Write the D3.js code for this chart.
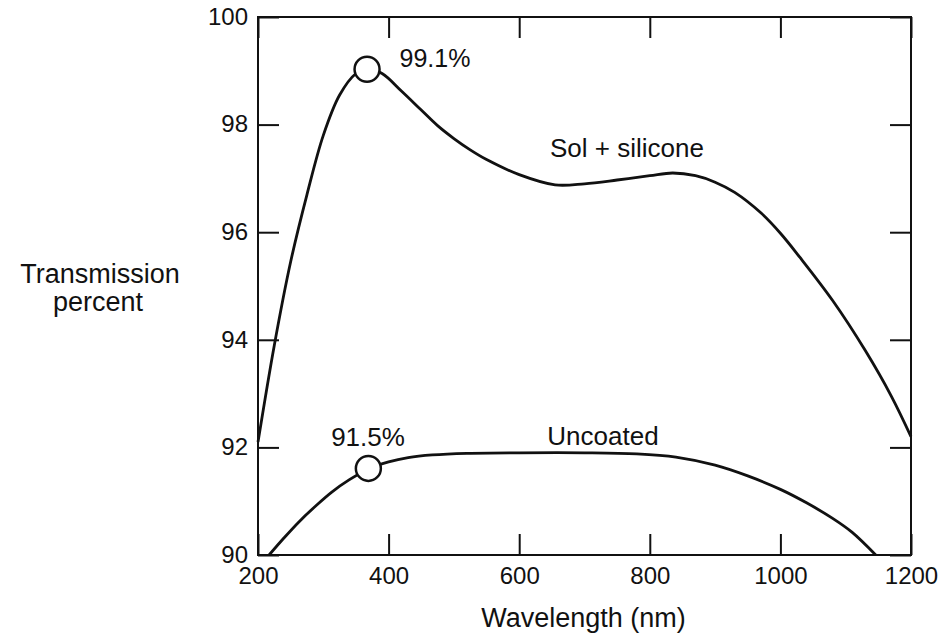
<!DOCTYPE html>
<html><head><meta charset="utf-8">
<script src="https://cdn.jsdelivr.net/npm/d3@7"></script>
<style>
body{margin:0;background:#fff;}
text{font-family:"Liberation Sans",Arial,sans-serif;fill:#111;}
</style></head>
<body><svg id="c" width="942" height="636"></svg>
<script>
const xTicks = [200, 400, 600, 800, 1000, 1200];
const yTicks = [90, 92, 94, 96, 98, 100];
const solWave = [200,225,250,275,300,325,350,367,390,420,450,475,500,525,550,600,655,700,750,800,835,870,900,930,970,1000,1030,1080,1130,1170,1200];
const solValue = [92.1,93.9,95.45,96.7,97.8,98.55,98.95,99.04,98.95,98.62,98.27,97.98,97.74,97.53,97.35,97.07,96.88,96.9,96.97,97.05,97.1,97.05,96.93,96.74,96.36,95.98,95.53,94.73,93.8,92.95,92.2];
const uncWave = [217,240,263,290,313,340,369,400,430,467,520,600,700,780,840,900,950,1000,1040,1080,1110,1146];
const uncValue = [90,90.32,90.62,90.93,91.17,91.4,91.6,91.73,91.81,91.86,91.89,91.9,91.9,91.88,91.82,91.67,91.47,91.22,90.97,90.68,90.42,90.0];
const markerWave = [367, 369];
const markerValue = [99.03, 91.61];
const markerLabel = ["99.1%", "91.5%"];
const seriesLabel = ["Sol + silicone", "Uncoated"];

const svg = d3.select("#c");
const L = 258, R = 911, T = 17, B = 555;
const x = d3.scaleLinear().domain([200, 1200]).range([L, R]);
const y = d3.scaleLinear().domain([90, 100]).range([B, T]);

// frame
svg.append("rect").attr("x", L).attr("y", T).attr("width", R - L).attr("height", B - T)
  .attr("fill", "none").attr("stroke", "#111").attr("stroke-width", 2);

const tl = 21;
// axes with inward ticks
const gx = svg.append("g").attr("transform", `translate(0,${B})`)
  .call(d3.axisBottom(x).tickValues(xTicks).tickSize(-tl).tickPadding(12).tickFormat(d3.format("d")));
const gxt = svg.append("g").attr("transform", `translate(0,${T})`)
  .call(d3.axisTop(x).tickValues(xTicks).tickSize(-tl).tickFormat(""));
const gy = svg.append("g").attr("transform", `translate(${L},0)`)
  .call(d3.axisLeft(y).tickValues(yTicks).tickSize(-tl).tickPadding(10).tickFormat(d3.format("d")));
const gyr = svg.append("g").attr("transform", `translate(${R},0)`)
  .call(d3.axisRight(y).tickValues(yTicks).tickSize(-tl).tickFormat(""));
[gx, gxt, gy, gyr].forEach(g => {
  g.select(".domain").remove();
  g.selectAll(".tick line").attr("stroke", "#111").attr("stroke-width", 2);
  g.selectAll("text").style("font-size", "24px").style("font-family", "'Liberation Sans',Arial,sans-serif").attr("fill", "#111");
});
gy.selectAll(".tick text").attr("dy", "0.3em");

// curves
const line = d3.line().x(d => x(d[0])).y(d => y(d[1])).curve(d3.curveCatmullRom.alpha(0.5));
svg.append("path").datum(solWave.map((w, i) => [w, solValue[i]]))
  .attr("d", line).attr("fill", "none").attr("stroke", "#111").attr("stroke-width", 2.8);
svg.append("path").datum(uncWave.map((w, i) => [w, uncValue[i]]))
  .attr("d", line).attr("fill", "none").attr("stroke", "#111").attr("stroke-width", 2.8);

// markers
svg.selectAll("circle.m").data(markerWave).enter().append("circle")
  .attr("cx", (d) => x(d)).attr("cy", (d, i) => y(markerValue[i])).attr("r", 12.5)
  .attr("fill", "#fff").attr("stroke", "#111").attr("stroke-width", 2.5);

// annotations
svg.append("text").attr("x", 435).attr("y", 67).attr("text-anchor", "middle").style("font-size", "25px").text(markerLabel[0]);
svg.append("text").attr("x", 368).attr("y", 446).attr("text-anchor", "middle").style("font-size", "26px").text(markerLabel[1]);
svg.append("text").attr("x", 627).attr("y", 157).attr("text-anchor", "middle").style("font-size", "26px").text(seriesLabel[0]);
svg.append("text").attr("x", 603).attr("y", 445).attr("text-anchor", "middle").style("font-size", "26px").text(seriesLabel[1]);

// axis titles
svg.append("text").attr("x", (L + R) / 2 - 1).attr("y", 627).attr("text-anchor", "middle").style("font-size", "27px").text("Wavelength (nm)");
svg.append("text").attr("x", 100).attr("y", 283).attr("text-anchor", "middle").style("font-size", "27px").style("font-weight", "500").text("Transmission");
svg.append("text").attr("x", 98).attr("y", 311).attr("text-anchor", "middle").style("font-size", "27px").style("font-weight", "500").text("percent");
</script></body></html>
